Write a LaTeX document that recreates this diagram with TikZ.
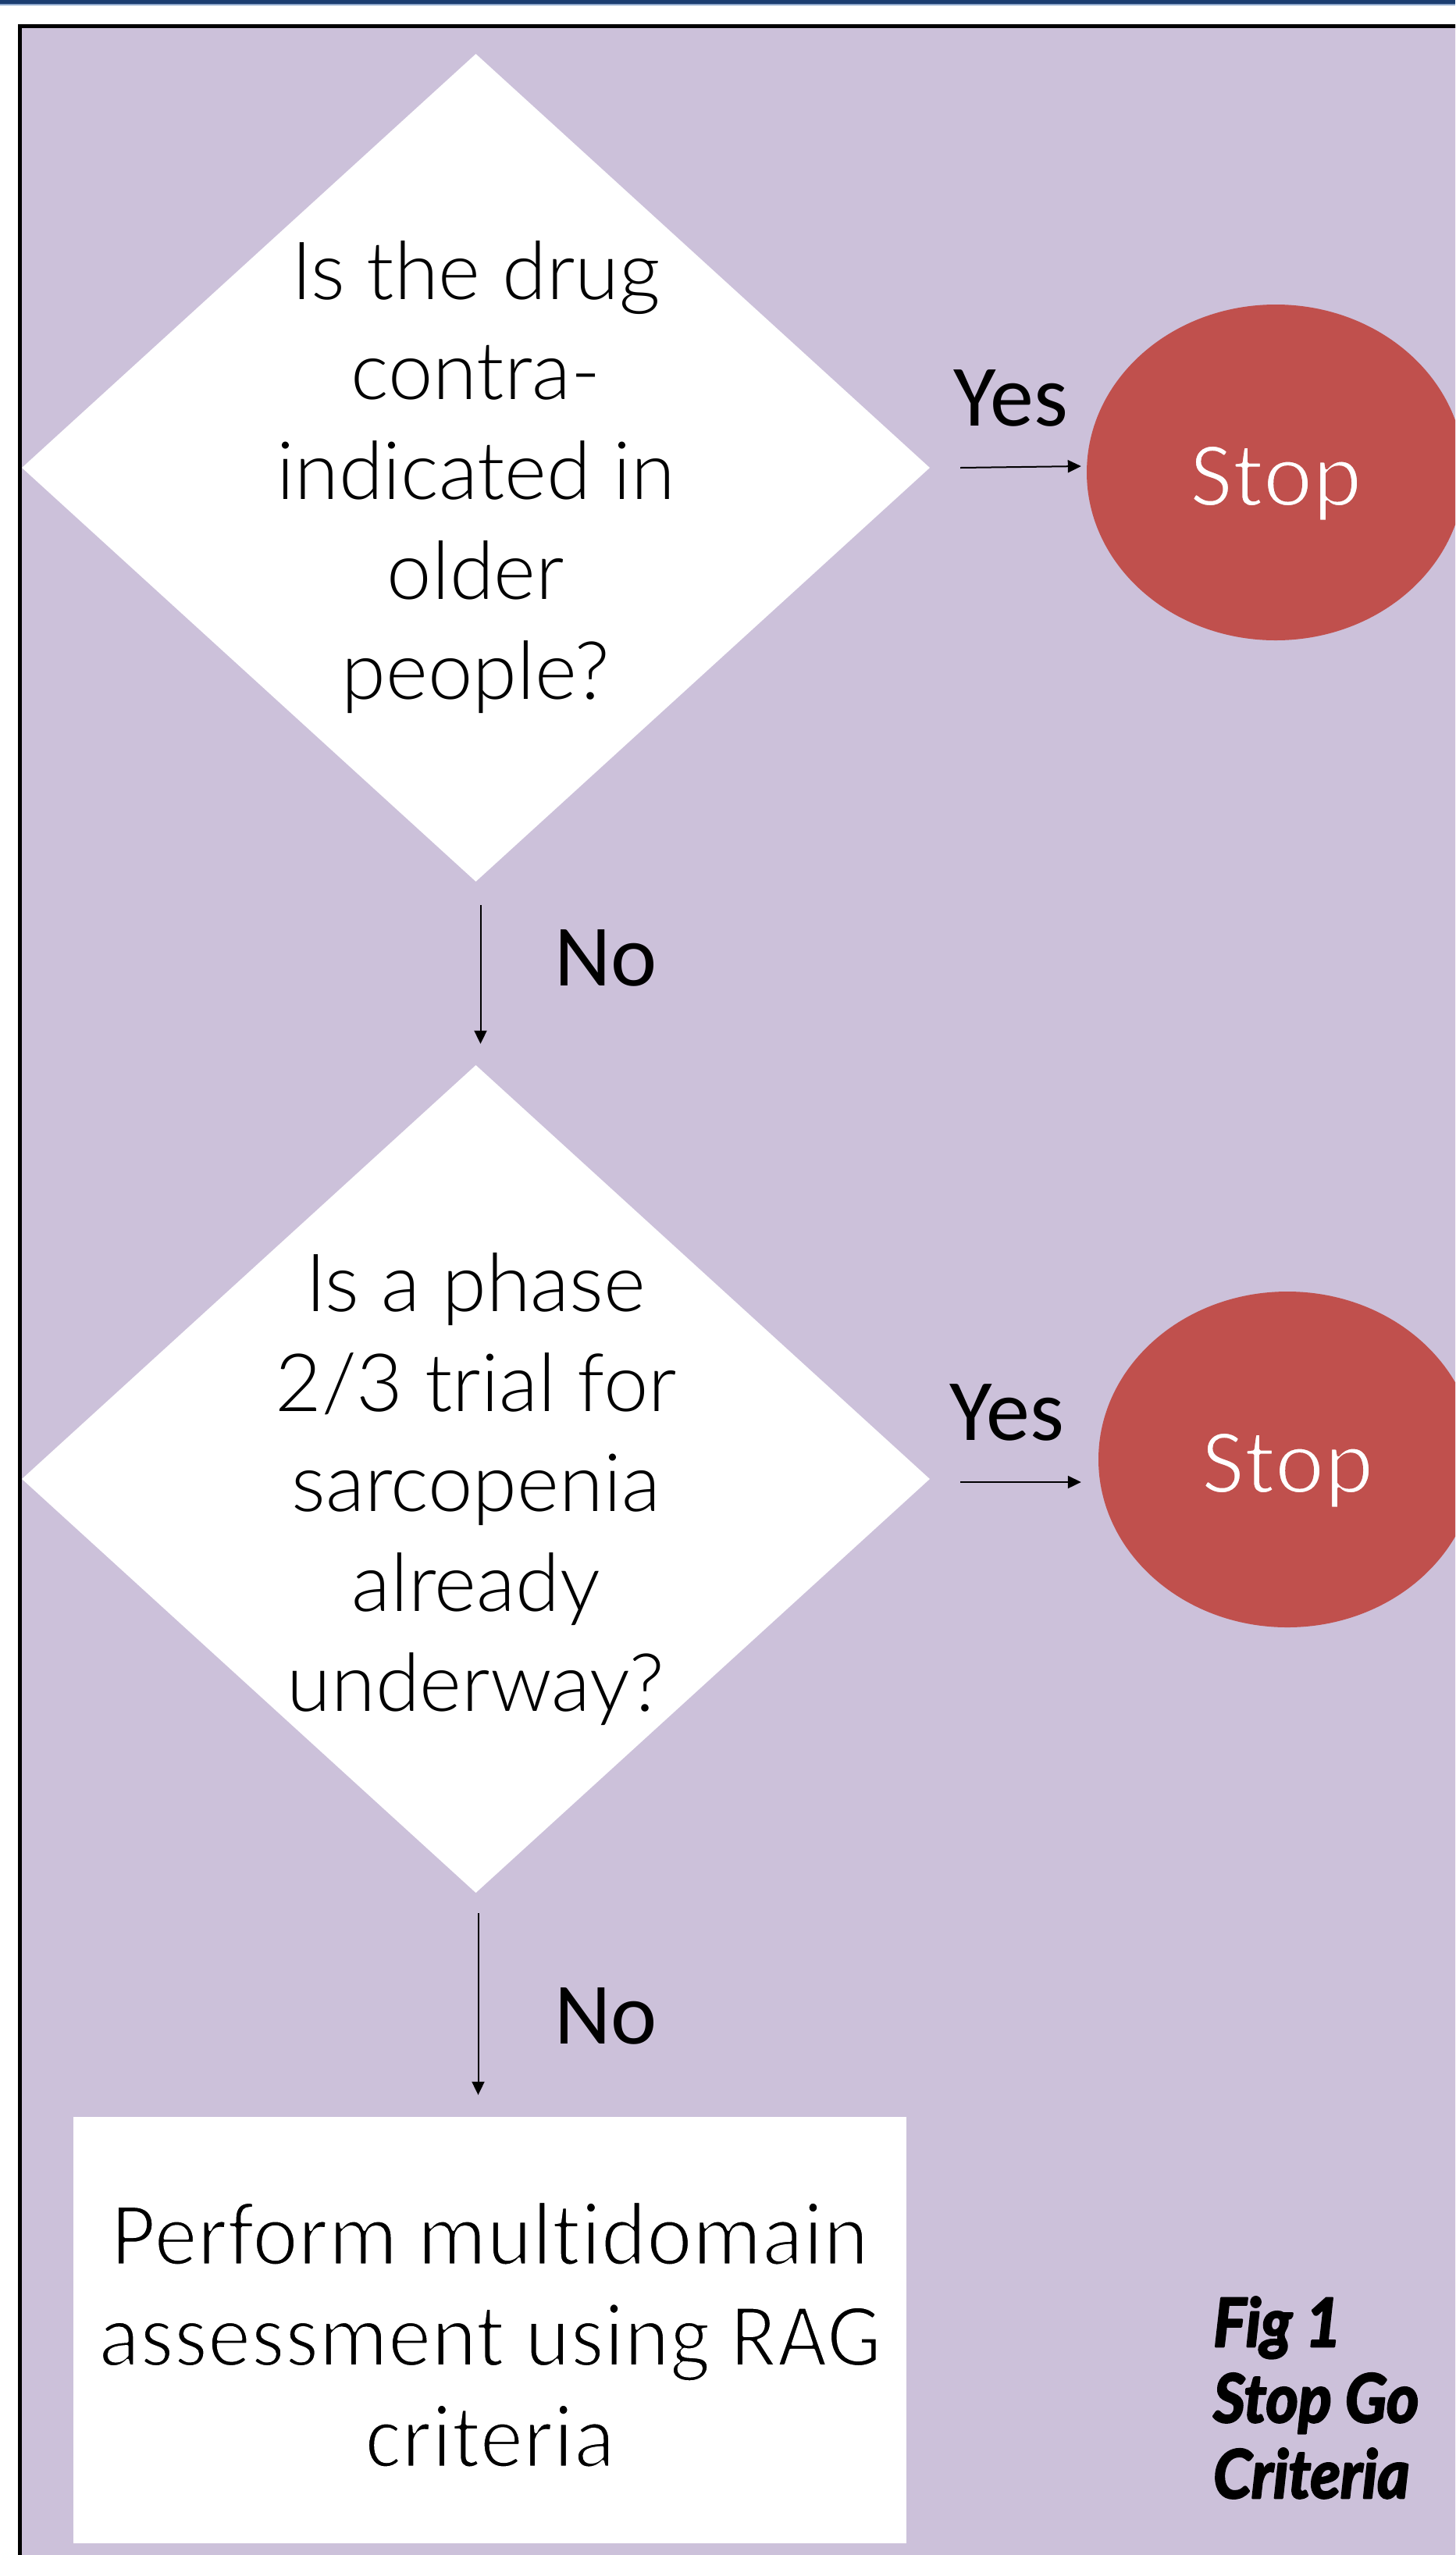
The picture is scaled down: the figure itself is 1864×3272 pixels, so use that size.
\documentclass[tikz,border=0pt]{standalone}
\usepackage{fontspec}
\usetikzlibrary{shapes.geometric,arrows.meta,calc}
\newfontfamily\latolight{Lato Light}
\newfontfamily\carlito{Carlito}
\newfontfamily\carlitonarrow{Carlito}[FakeStretch=0.95,Ligatures=NoCommon]
\newfontfamily\latofig{Lato}[FakeStretch=0.92]
\newcommand\thinstroke[3]{\special{pdf:literal direct 2 Tr #2 RG #1 w 1 j}#3\special{pdf:literal direct 0 Tr}}
\definecolor{bgpurple}{HTML}{CCC1DA}
\definecolor{stopred}{HTML}{C0504D}
\definecolor{bandblue}{HTML}{1B3D70}
\definecolor{bandlight}{HTML}{8FA8CC}
\begin{document}
\begin{tikzpicture}[x=1pt,y=-1pt,
  decision/.style={diamond, fill=white, draw=none, minimum width=1163pt, minimum height=1060pt, inner sep=0pt},
  qtext/.style={align=center, font=\latolight\fontsize{103}{128}\selectfont, inner sep=0pt, anchor=north},
  stopnode/.style={ellipse, fill=stopred, draw=none, minimum width=484pt, minimum height=430pt, inner sep=0pt, text=white, font=\carlito\fontsize{120}{120}\selectfont, text height=86pt, text depth=0pt},
  answer/.style={font=\carlito\fontsize{112}{112}\selectfont, inner sep=0pt, anchor=base},
  actbox/.style={rectangle, fill=white, draw=none, minimum width=1067pt, minimum height=546pt, inner sep=0pt},
  acttext/.style={align=center, font=\carlitonarrow\fontsize{117}{129.5}\selectfont, inner sep=0pt, anchor=north},
  figtext/.style={align=left, font=\latofig\bfseries\itshape\fontsize{86}{97}\selectfont, inner sep=0pt, anchor=north west},
  arr/.style={line width=2pt, -{Triangle[length=17pt,width=16pt]}},
]
\useasboundingbox (0,0) rectangle (1864,3272);
\clip (0,0) rectangle (1864,3272);
\fill[white] (0,0) rectangle (1864,3272);
\fill[bandblue] (0,0) rectangle (1864,5);
\fill[bandlight] (0,5) rectangle (1864,6.5);
\filldraw[fill=bgpurple, draw=black, line width=5.5pt] (25.5,33.5) rectangle (1920,3330);

\node[decision] (d1) at (609.5,599) {};
\node[qtext] (q1) at (609.5,308) {Is the drug\\contra-\\indicated in\\older\\people?};
\node[stopnode] (s1) at (1634,605) {\thinstroke{3.5}{0.753 0.314 0.302}{Stop}};

\node[decision] (d2) at (609.5,1894) {};
\node[qtext] (q2) at (609.5,1604) {Is a phase\\2/3 trial for\\sarcopenia\\already\\underway?};
\node[stopnode] (s2) at (1649,1869) {\thinstroke{3.5}{0.753 0.314 0.302}{Stop}};

\node[actbox] (box) at (627.5,2984) {};
\node[acttext] (boxtext) at (627.5,2819) {\thinstroke{3.5}{1 1 1}{Perform multidomain\\assessment using RAG\\criteria}};

\node[figtext] (fig) at (1554,2941) {\thinstroke{2.5}{0 0 0}{Fig 1\\Stop Go\\Criteria}};

\draw[arr] ([xshift=39pt]d1.east) -- ([xshift=-7pt,yshift=8pt]s1.west);
\draw[arr] ([xshift=6pt,yshift=-30pt]d1.south) -- ([xshift=6pt,yshift=27pt]d2.north);
\draw[arr] ([xshift=39pt,yshift=-4pt]d2.east) -- ([xshift=-22pt,yshift=-29pt]s2.west);
\draw[arr] ([xshift=3pt,yshift=-26pt]d2.south) -- ($(d2.south |- box.north)+(3,-28)$);

\node[answer] (yes1) at (1295,545) {Yes};
\node[answer] (no1) at (776,1262) {No};
\node[answer] (yes2) at (1290,1844) {Yes};
\node[answer] (no2) at (776,2617) {No};
\end{tikzpicture}
\end{document}
